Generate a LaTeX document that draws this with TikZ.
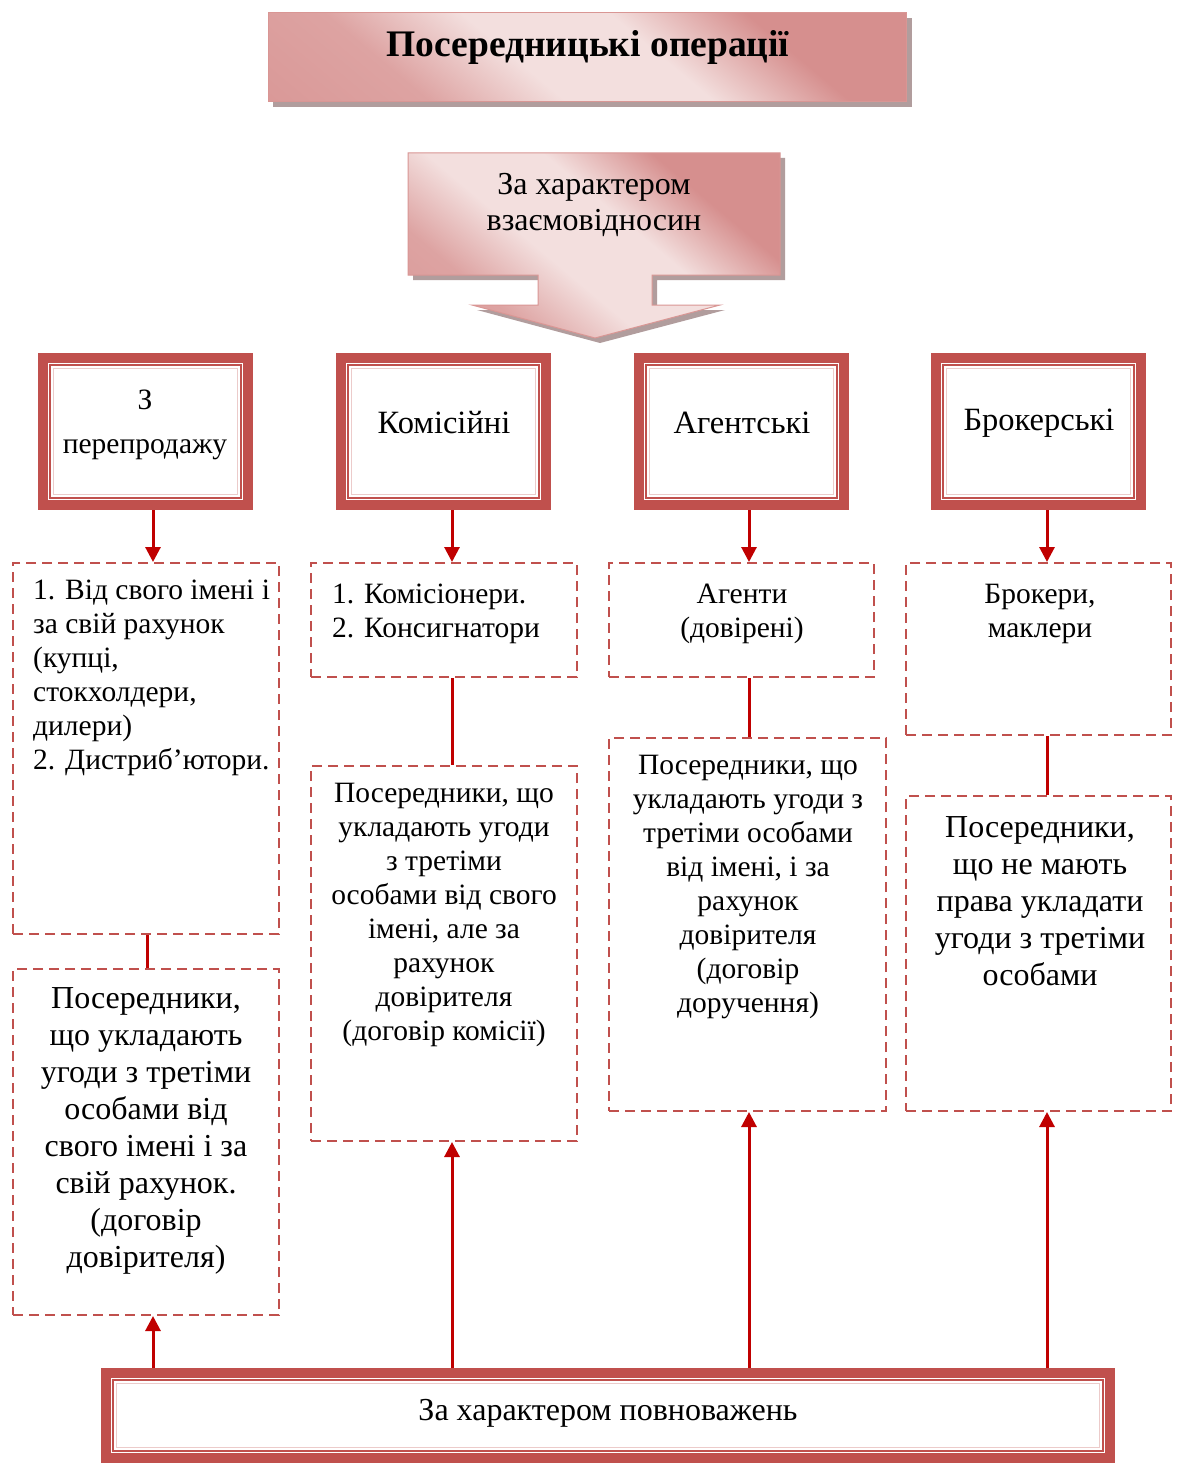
\documentclass[tikz,border=0pt]{standalone}
\usepackage{fontspec}
\setmainfont{Liberation Serif}
\usetikzlibrary{arrows.meta,calc}
\definecolor{bord}{HTML}{C0504D}
\definecolor{arrc}{HTML}{C00000}
\definecolor{pinkL}{HTML}{F3DFDE}
\definecolor{pinkD}{HTML}{D68F8E}
\definecolor{pinkE}{HTML}{D99694}
\definecolor{shad}{HTML}{A48C8D}
\pgfdeclareverticalshading{pinkband}{100bp}{color(0bp)=(pinkD); color(30bp)=(pinkD!75!pinkL); color(43bp)=(pinkL); color(57bp)=(pinkL); color(70bp)=(pinkD); color(100bp)=(pinkD)}
\begin{document}
\begin{tikzpicture}[x=1pt,y=-1pt,
  dbox/.style={draw=bord,line width=10pt,fill=white,inner sep=0pt},
  dashbox/.style={draw=bord,line width=2pt,dash pattern=on 10pt off 6pt,inner sep=0pt},
  arr/.style={draw=arrc,line width=3pt,-{Triangle[width=15pt,length=15pt]}},
  conn/.style={draw=arrc,line width=3pt},
  thinline/.style={draw=bord,line width=2pt},
  faintline/.style={draw=bord!30,line width=1.5pt},
  txt/.style={inner sep=0pt,font=\fontsize{29.5}{34}\selectfont,align=center},
  txtb/.style={inner sep=0pt,font=\fontsize{32}{37}\selectfont,align=center},
  txth/.style={inner sep=0pt,font=\fontsize{32.5}{44}\selectfont,align=center},
  pinkshade/.style={shading=pinkband,shading angle=-40}
]
\useasboundingbox (0,0) rectangle (1176,1463);
\fill[white] (0,0) rectangle (1176,1463);

% Title
\fill[shad,opacity=.85] (273,18) rectangle (912,107);
\node[pinkshade,draw=pinkE,line width=1pt,minimum width=638pt,minimum height=89pt,inner sep=0pt] (title) at (587.5,57) {};
\node[inner sep=0pt,font=\fontsize{37.5}{40}\selectfont\bfseries] (titletext) at (588,47) {Посередницькі операції};

% Callout arrow
\fill[shad,opacity=.85] (413,158) -- (785,158) -- (785,280) -- (657,280) -- (657,310) -- (725,310) -- (600,343) -- (477,310) -- (543,310) -- (543,280) -- (413,280) -- cycle;
\shade[pinkshade,draw=pinkE,line width=1pt] (408,153) -- (780,153) -- (780,275) -- (652,275) -- (652,305) -- (720,305) -- (595,338) -- (472,305) -- (538,305) -- (538,275) -- (408,275) -- cycle;
\node[inner sep=0pt,font=\fontsize{32}{36}\selectfont,align=center] (calltext) at (594,205) {За характером\\взаємовідносин};

% Double-bordered boxes
\node[dbox,minimum width=205pt,minimum height=147pt] (b1) at (145.5,431.5) {};
\node[dbox,minimum width=205pt,minimum height=147pt] (b2) at (443.5,431.5) {};
\node[dbox,minimum width=205pt,minimum height=147pt] (b3) at (741.5,431.5) {};
\node[dbox,minimum width=205pt,minimum height=147pt] (b4) at (1038.5,431.5) {};
\foreach \b in {b1,b2,b3,b4}{
  \draw[thinline] ([shift={(12,12)}]\b.north west) rectangle ([shift={(-12,-12)}]\b.south east);
  \draw[faintline] ([shift={(15.5,15.5)}]\b.north west) rectangle ([shift={(-15.5,-15.5)}]\b.south east);
}
\node[txth,font=\fontsize{29.5}{44}\selectfont] (t1) at (145,425) {З\\перепродажу};
\node[txth] (t2) at (444,423) {Комісійні};
\node[txth] (t3) at (742,423) {Агентські};
\node[txth] (t4) at (1039,423) {Брокерські};

% Dashed boxes
\node[dashbox,minimum width=266pt,minimum height=371pt] (d1) at (146,748.5) {};
\node[dashbox,minimum width=266pt,minimum height=346pt] (d1b) at (146,1142) {};
\node[dashbox,minimum width=266pt,minimum height=114pt] (d2) at (444,620) {};
\node[dashbox,minimum width=266pt,minimum height=375pt] (d2b) at (444,953.5) {};
\node[dashbox,minimum width=265pt,minimum height=114pt] (d3) at (741.5,620) {};
\node[dashbox,minimum width=277pt,minimum height=373pt] (d3b) at (747.5,924.5) {};
\node[dashbox,minimum width=265pt,minimum height=172pt] (d4) at (1038.5,649) {};
\node[dashbox,minimum width=265pt,minimum height=315pt] (d4b) at (1038.5,953.5) {};

\node[txt,align=left,anchor=west] (x1) at (33,678) {1. Від свого імені і\\за свій рахунок\\(купці,\\стокхолдери,\\дилери)\\2. Дистриб’ютори.};
\node[txtb] (x1b) at (146,1131) {Посередники,\\що укладають\\угоди з третіми\\особами від\\свого імені і за\\свій рахунок.\\(договір\\довірителя)};
\node[txt,align=left,anchor=west] (x2) at (332,614) {1. Комісіонери.\\2. Консигнатори};
\node[txt] (x2b) at (444,915) {Посередники, що\\укладають угоди\\з третіми\\особами від свого\\імені, але за\\рахунок\\довірителя\\(договір комісії)};
\node[txt] (x3) at (742,614) {Агенти\\(довірені)};
\node[txt] (x3b) at (748,887) {Посередники, що\\укладають угоди з\\третіми особами\\від імені, і за\\рахунок\\довірителя\\(договір\\доручення)};
\node[txt] (x4) at (1040,614) {Брокери,\\маклери};
\node[txtb] (x4b) at (1040,901) {Посередники,\\що не мають\\права укладати\\угоди з третіми\\особами};

% Bottom box
\node[dbox,minimum width=1004pt,minimum height=85pt] (B) at (608,1415.5) {};
\draw[thinline] ([shift={(12,12)}]B.north west) rectangle ([shift={(-12,-12)}]B.south east);
\draw[faintline] ([shift={(15.5,15.5)}]B.north west) rectangle ([shift={(-15.5,-15.5)}]B.south east);
\node[inner sep=0pt,font=\fontsize{32}{36}\selectfont] (Bt) at (608,1413) {За характером повноважень};

% Column coordinates
\coordinate (a1) at (153,0);
\coordinate (a2) at (452,0);
\coordinate (a3) at (749,0);
\coordinate (a4) at (1047,0);
\coordinate (c1) at (147,0);

% Down arrows
\draw[arr] (b1.south -| a1) -- (d1.north -| a1);
\draw[arr] (b2.south -| a2) -- (d2.north -| a2);
\draw[arr] (b3.south -| a3) -- (d3.north -| a3);
\draw[arr] (b4.south -| a4) -- (d4.north -| a4);

% Connectors
\draw[conn] (d1.south -| c1) -- (d1b.north -| c1);
\draw[conn] (d2.south -| a2) -- (d2b.north -| a2);
\draw[conn] (d3.south -| a3) -- (d3b.north -| a3);
\draw[conn] (d4.south -| a4) -- (d4b.north -| a4);

% Up arrows
\draw[arr] (B.north -| a1) -- (d1b.south -| a1);
\draw[arr] (B.north -| a2) -- (d2b.south -| a2);
\draw[arr] (B.north -| a3) -- (d3b.south -| a3);
\draw[arr] (B.north -| a4) -- (d4b.south -| a4);
\end{tikzpicture}
\end{document}
